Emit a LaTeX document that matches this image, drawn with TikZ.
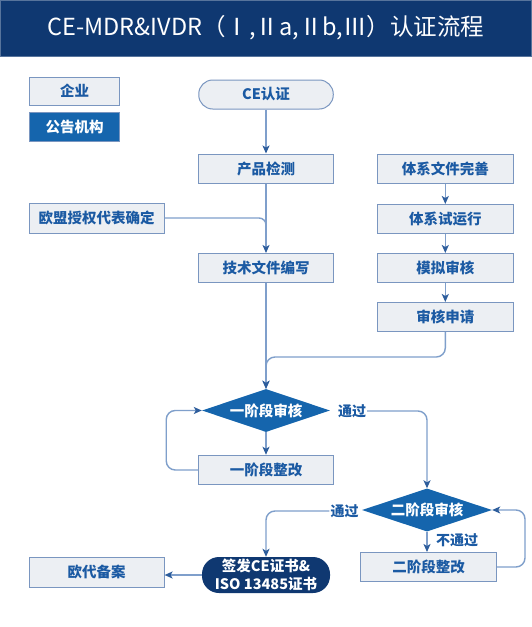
\documentclass[tikz,border=0pt]{standalone}
\usepackage{fontspec}
\setmainfont{Noto Sans CJK SC}
\usetikzlibrary{shapes.geometric,arrows.meta,calc}
\definecolor{navy}{HTML}{0F3871}
\definecolor{midblue}{HTML}{1565AD}
\definecolor{boxfill}{HTML}{ECEFF3}
\definecolor{boxline}{HTML}{7A96C0}
\definecolor{txt}{HTML}{1B5AA3}
\definecolor{lineC}{HTML}{7F9FCB}
\definecolor{arrowC}{HTML}{2D5D9C}
\tikzset{
  stepbox/.style={draw=boxline, fill=boxfill, line width=1pt, minimum width=134.5pt, minimum height=29pt,
    inner sep=0pt, font=\bfseries\fontsize{14.5}{16}\selectfont, text=txt},
  legbox/.style={stepbox, minimum width=90.5pt},
  decision/.style={diamond, aspect=3, fill=midblue, inner sep=0pt, minimum width=128pt, minimum height=43pt,
    font=\bfseries\fontsize{14.5}{16}\selectfont, text=white},
  lbl/.style={font=\bfseries\fontsize{14}{16}\selectfont, text=txt, inner sep=1pt},
  conn/.style={draw=lineC, line width=1.4pt, -{Stealth[length=8pt,width=7pt,inset=2pt,color=arrowC]}},
  plain/.style={draw=lineC, line width=1.4pt},
}
\begin{document}
\begin{tikzpicture}[x=1pt,y=-1pt]
\useasboundingbox (0,0) rectangle (532,627);
\fill[white] (0,0) rectangle (532,627);
% title
\fill[navy] (0,0) rectangle (532,57);
\draw[color=navy!70!white, line width=0.8pt] (0.4,0.4) rectangle (531.6,56.6);
\node[text=white, font=\fontsize{23.5}{26}\selectfont] (title) at (266,27.5) {CE-MDR\&IVDR（Ⅰ,Ⅱa,Ⅱb,Ⅲ）认证流程};
% legend
\node[legbox, minimum height=28pt] (leg1) at (74.5,91) {企业};
\node[legbox, fill=midblue, text=white] (leg2) at (74.5,127) {公告机构};
% main column
\node[stepbox, rounded corners=14pt] (ce) at (266,94.5) {CE认证};
\node[stepbox] (cp) at (266,168.5) {产品检测};
\node[stepbox, minimum width=135pt, minimum height=30pt] (eu) at (96.6,218) {欧盟授权代表确定};
\node[stepbox] (js) at (266,268) {技术文件编写};
% right column
\node[stepbox, minimum width=135.5pt] (tx1) at (445.3,168.5) {体系文件完善};
\node[stepbox, minimum width=135.5pt] (tx2) at (445.3,219) {体系试运行};
\node[stepbox, minimum width=135.5pt] (mn) at (445.3,268) {模拟审核};
\node[stepbox, minimum width=135.5pt] (sq) at (445.3,317) {审核申请};
% decisions
\node[decision] (d1) at (266,410.5) {一阶段审核};
\node[stepbox, minimum height=29.5pt] (yz1) at (266,470) {一阶段整改};
\node[decision, minimum width=130pt] (d2) at (427,510) {二阶段审核};
\node[stepbox, minimum width=136pt] (yz2) at (428.5,567) {二阶段整改};
\node[fill=navy, rounded corners=17pt, minimum width=128pt, minimum height=36pt, inner sep=0pt,
  text=white, align=center, font=\bfseries\fontsize{14.5}{17.5}\selectfont] (qf) at (266,575) {签发CE证书\&\\ISO 13485证书};
\node[stepbox, minimum width=135pt, minimum height=30pt] (od) at (96.6,572) {欧代备案};
% labels
\node[lbl] (p1) at (352,411) {通过};
\node[lbl] (p2) at (344.5,511) {通过};
\node[lbl] (np) at (457,540) {不通过};
% connectors
\draw[conn] (ce) -- (cp);
\draw[conn] (cp) -- (js);
\draw[plain, rounded corners=7pt] (eu.east) -| ($(js.north)+(0,-12)$);
\draw[conn] (tx1) -- (tx2);
\draw[conn] (tx2) -- (mn);
\draw[conn] (mn) -- (sq);
\coordinate (j1) at (266,357);
\draw[conn] (js) -- (d1.north);
\draw[conn, rounded corners=9pt] (sq.south) |- (j1) -- (d1.north);
\draw[conn] (d1.south) -- (yz1.north);
\draw[conn, rounded corners=9pt] (yz1.west) -- ++(-32,0) |- (d1.west);
\draw[conn, rounded corners=9pt] (p1.east) -| (d2.north);
\draw[conn, rounded corners=9pt] (p2.west) -| (qf.north);
\draw[conn] (d2.south) -- (d2.south |- yz2.north);
\draw[conn, rounded corners=9pt] (yz2.east) -- ++(28,0) |- (d2.east);
\draw[conn] (qf.west) -- (qf.west -| od.east);
\end{tikzpicture}
\end{document}
